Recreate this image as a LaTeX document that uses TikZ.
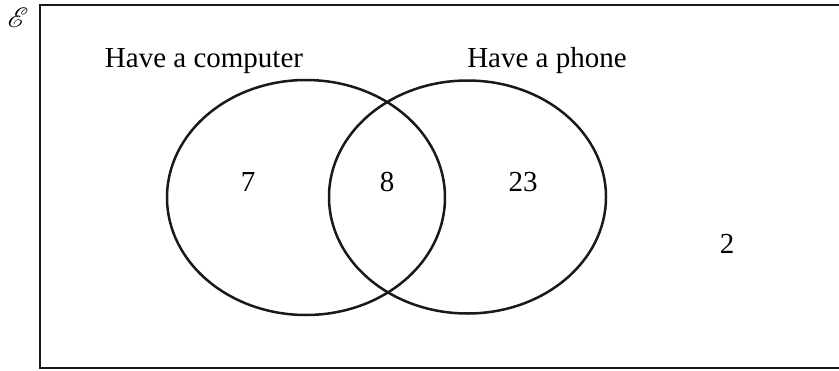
\documentclass[tikz,border=0pt]{standalone}
\usepackage{fontspec}
\usepackage{mathrsfs}
\setmainfont{Liberation Serif}
\begin{document}
\begin{tikzpicture}[x=1pt,y=-1pt,
  line width=2pt,
  lbl/.style={font=\fontsize{29}{34}\selectfont, inner sep=0pt, anchor=base},
  setline/.style={draw=black!90, line width=2.5pt}]
\useasboundingbox (0,0) rectangle (839,370);
\node[inner sep=0pt] (U) at (18,18) {\scalebox{2.8}{$\mathscr{E}$}};
\draw[setline] (40,5) rectangle (845,368);
\draw[setline] (306,197.5) ellipse [x radius=139, y radius=117.5];
\draw[setline] (467.5,197) ellipse [x radius=138.5, y radius=116.5];
\node[lbl] (A) at (204,67) {Have a computer};
\node[lbl] (B) at (547,67) {Have a phone};
\node[lbl] (n7) at (248,191) {7};
\node[lbl] (n8) at (387,191) {8};
\node[lbl] (n23) at (523,191) {23};
\node[lbl] (n2) at (727,253) {2};
\end{tikzpicture}
\end{document}
